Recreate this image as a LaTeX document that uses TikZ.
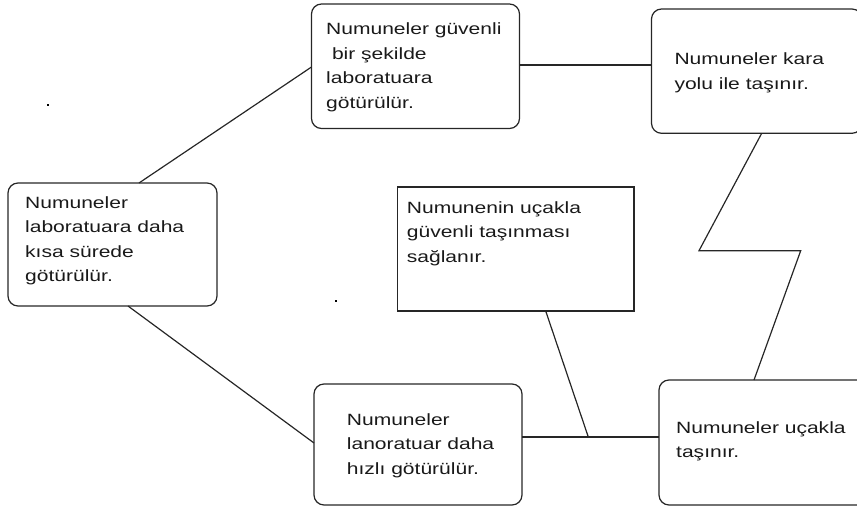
\documentclass[tikz,border=0pt]{standalone}
\usepackage{fontspec}
\newfontfamily\boxfont[FakeStretch=1.29]{Liberation Sans}
\begin{document}
\begin{tikzpicture}[x=1pt,y=-1pt,
  line/.style={line width=1.2pt, draw=black!85},
  rbox/.style={line, rounded corners=10pt},
  sbox/.style={line},
  txt/.style={anchor=base west, inner sep=0pt, text=black!90,
    font={\boxfont\fontsize{16.3}{24.5}\selectfont}},
  speck/.style={fill=black, minimum size=2.2pt, inner sep=0pt}]
  \useasboundingbox (0,0) rectangle (857,508);
  \clip (0,0) rectangle (857,508);

  % boxes
  \draw[rbox] (8,183) rectangle (217,306);
  \draw[rbox] (311.5,4) rectangle (519.5,128.5);
  \draw[rbox] (651.5,9) rectangle (862,133.3);
  \draw[sbox] (397.5,187) rectangle (634,311);
  \draw[rbox] (314,384) rectangle (522,505);
  \draw[rbox] (659,380) rectangle (880,505);

  % named anchor points on the box outlines
  \coordinate (aT) at (139,183);
  \coordinate (aB) at (128,306);
  \coordinate (bL) at (311.5,67);
  \coordinate (bR) at (519.5,65);
  \coordinate (cL) at (651.5,65);
  \coordinate (cB) at (761.7,133.3);
  \coordinate (dB) at (545.7,311);
  \coordinate (eL) at (314,443);
  \coordinate (eR) at (522,437);
  \coordinate (fL) at (659,437);
  \coordinate (fT) at (754,380);
  \coordinate (zL) at (699,250.7);
  \coordinate (zR) at (800.7,250.7);
  \coordinate (jn) at (588.3,437);

  % connectors
  \draw[line] (aT) -- (bL);
  \draw[line] (aB) -- (eL);
  \draw[line] (bR) -- (cL);
  \draw[line] (eR) -- (fL);
  \draw[line] (cB) -- (zL) -- (zR) -- (fT);
  \draw[line] (dB) -- (jn);

  % texts
  \node[txt] (tA) at (25,208.3) {\vtop{\hbox{Numuneler}\hbox{laboratuara daha}\hbox{kısa sürede}\hbox{götürülür.}}};
  \node[txt] (tB) at (326,35) {\vtop{\hbox{Numuneler güvenli}\hbox{\ bir şekilde}\hbox{laboratuara}\hbox{götürülür.}}};
  \node[txt] (tC) at (674.3,65) {\vtop{\hbox{Numuneler kara}\hbox{yolu ile taşınır.}}};
  \node[txt] (tD) at (406.7,213.3) {\vtop{\hbox{Numunenin uçakla}\hbox{güvenli taşınması}\hbox{sağlanır.}}};
  \node[txt] (tE) at (346.7,425) {\vtop{\hbox{Numuneler}\hbox{lanoratuar daha}\hbox{hızlı götürülür.}}};
  \node[txt] (tF) at (676,433.3) {\vtop{\hbox{Numuneler uçakla}\hbox{taşınır.}}};

  % two stray specks
  \node[speck] (s1) at (48.3,105) {};
  \node[speck] (s2) at (336,300.7) {};
\end{tikzpicture}
\end{document}
